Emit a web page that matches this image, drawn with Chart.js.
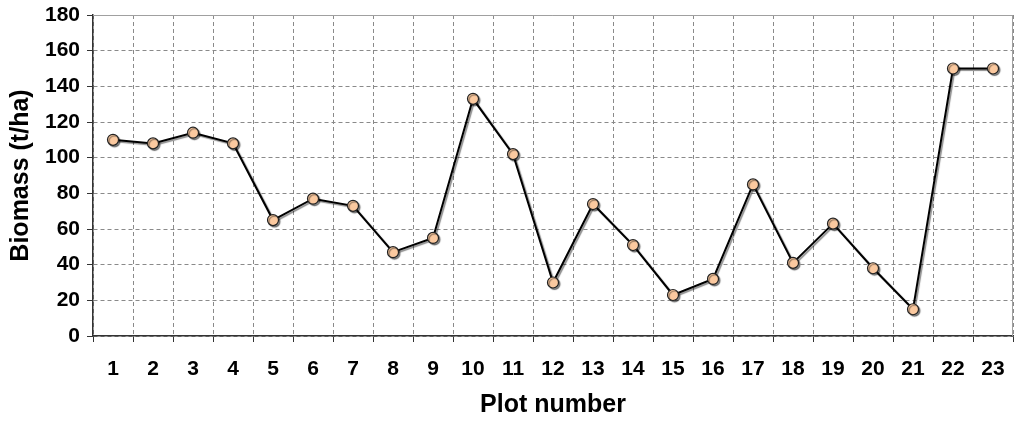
<!DOCTYPE html>
<html>
<head>
<meta charset="utf-8">
<script src="https://cdn.jsdelivr.net/npm/chart.js@4/dist/chart.umd.min.js"></script>
<style>
  html, body { margin: 0; padding: 0; background: #fff; }
  #wrap { width: 1024px; height: 423px; }
</style>
</head>
<body>
<div id="wrap"><canvas id="grafico" width="1024" height="423"></canvas></div>
<script>
// Datos
const parcelas = ['1','2','3','4','5','6','7','8','9','10','11','12','13','14','15','16','17','18','19','20','21','22','23'];
const biomasa = [110, 108, 114, 108, 65, 77, 73, 47, 55, 133, 102, 30, 74, 51, 23, 32, 85, 41, 63, 38, 15, 150, 150];
const ticksY = [0, 20, 40, 60, 80, 100, 120, 140, 160, 180];

const FUENTE = 'Liberation Sans, Arial, sans-serif';

// Marco gris alrededor del área del gráfico (borde superior y derecho)
const marco = {
    id: 'marco',
    afterDraw(chart) {
        const { ctx, chartArea: a } = chart;
        ctx.save();
        ctx.strokeStyle = '#a0a0a0';
        ctx.lineWidth = 1;
        ctx.beginPath();
        ctx.moveTo(a.left, a.top + 0.5);
        ctx.lineTo(a.right - 0.5, a.top + 0.5);
        ctx.lineTo(a.right - 0.5, a.bottom);
        ctx.stroke();
        ctx.restore();
    }
};

// Sombra suave debajo de los puntos
const sombra = {
    id: 'sombra',
    beforeDatasetDraw(chart) {
        const ctx = chart.ctx;
        ctx.save();
        ctx.shadowColor = 'rgba(0,0,0,0.45)';
        ctx.shadowOffsetX = 1.5;
        ctx.shadowOffsetY = 1.5;
        ctx.shadowBlur = 1;
    },
    afterDatasetDraw(chart) {
        chart.ctx.restore();
    }
};

new Chart(document.getElementById('grafico'), {
    type: 'line',
    data: {
        labels: parcelas,
        datasets: [{
            data: biomasa,
            borderColor: '#000',
            borderWidth: 2,
            pointRadius: 5.5,
            pointHoverRadius: 5.5,
            pointBackgroundColor: '#fbc99f',
            pointBorderColor: '#222',
            pointBorderWidth: 1.2,
            tension: 0
        }]
    },
    options: {
        responsive: false,
        animation: false,
        layout: { padding: { top: 15, right: 11, left: 0, bottom: 0 } },
        plugins: {
            legend: { display: false },
            tooltip: { enabled: false }
        },
        scales: {
            x: {
                offset: true,
                grid: {
                    offset: true,
                    color: '#8a8a8a',
                    lineWidth: 1,
                    tickLength: 6,
                    tickColor: '#333'
                },
                border: { color: '#333', width: 1.5, dash: [4, 3] },
                ticks: {
                    color: '#000',
                    padding: 15,
                    font: { family: FUENTE, size: 21, weight: 'bold' }
                },
                title: {
                    display: true,
                    text: 'Plot number',
                    color: '#000',
                    padding: { top: 2, bottom: 3 },
                    font: { family: FUENTE, size: 25, weight: 'bold' }
                },
                afterFit(scale) { scale.height = 87; }
            },
            y: {
                min: 0,
                max: 180,
                afterBuildTicks(scale) { scale.ticks = ticksY.map(v => ({ value: v })); },
                grid: {
                    color: '#8a8a8a',
                    lineWidth: 1,
                    tickLength: 6,
                    tickColor: '#333'
                },
                border: { color: '#333', width: 1.5, dash: [4, 3] },
                ticks: {
                    color: '#000',
                    padding: 7,
                    font: { family: FUENTE, size: 21, weight: 'bold' }
                },
                title: {
                    display: true,
                    text: 'Biomass (t/ha)',
                    color: '#000',
                    padding: { top: 6, bottom: 4 },
                    font: { family: FUENTE, size: 25, weight: 'bold' }
                },
                afterFit(scale) {
                    scale.width = 93;
                    scale.paddingTop = 0;
                }
            }
        }
    },
    plugins: [marco, sombra]
});
</script>
</body>
</html>
